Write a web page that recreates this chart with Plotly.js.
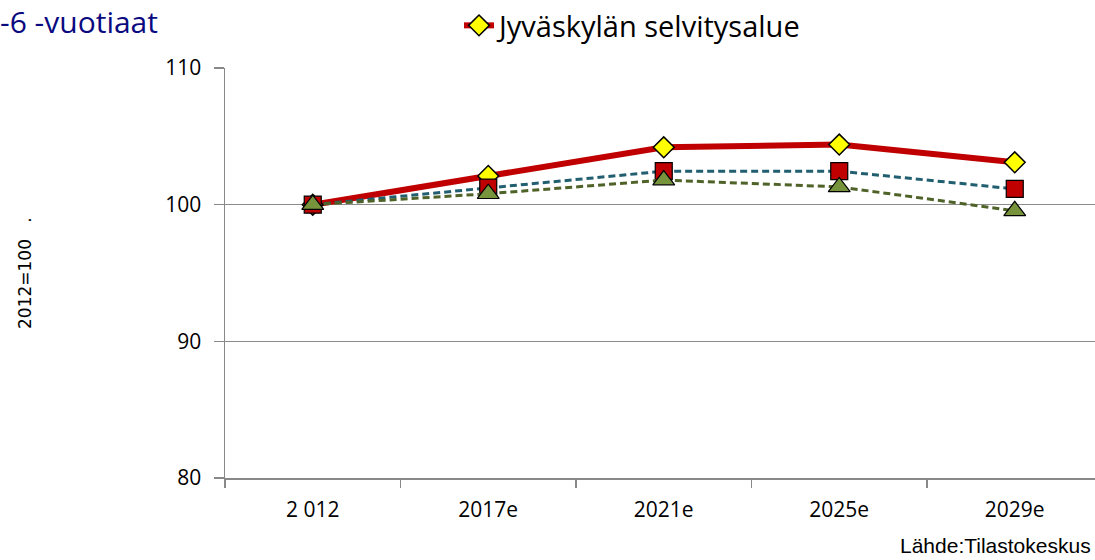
<!DOCTYPE html>
<html>
<head>
<meta charset="utf-8">
<script src="https://cdn.plot.ly/plotly-3.0.1.min.js"></script>
<style>html,body{margin:0;padding:0;background:#fff;}#chart{width:1095px;height:560px;}</style>
</head>
<body>
<div id="chart"></div>
<script>
const categories = ["2 012", "2017e", "2021e", "2025e", "2029e"];
const seriesNames = ["Jyväskylän selvitysalue", "Sarja 2", "Sarja 3"];
const jyvaskyla = [100, 102.1, 104.2, 104.4, 103.1];
const series2 = [100, 101.25, 102.45, 102.45, 101.15];
const series3 = [100, 100.8, 101.8, 101.3, 99.55];
const yTicks = [80, 90, 100, 110];
const titleText = "-6 -vuotiaat";
const yTitle = "2012=100&nbsp;&nbsp;&nbsp;.";
const sourceText = "Lähde:Tilastokeskus";

const L = 225, R = 0, T = 66, B = 82, W = 1095, H = 560;
const pw = W - L - R, ph = H - T - B;
const px = v => (v - L) / pw;
const py = v => (H - B - v) / ph;

const FONT = "'Open Sans', 'Noto Sans', sans-serif";

const traces = [
  {
    x: categories, y: jyvaskyla, name: seriesNames[0], type: "scatter", mode: "lines+markers",
    line: {color: "#C00000", width: 6},
    marker: {symbol: "diamond", size: 16, color: "#FFFF00", line: {color: "#000000", width: 1.5}},
    showlegend: true
  },
  {
    x: categories, y: series2, name: seriesNames[1], type: "scatter", mode: "lines+markers",
    line: {color: "#215F70", width: 3, dash: "7px,4px"},
    marker: {symbol: "square", size: 17, color: "#C00000", line: {color: "#000000", width: 1.2}},
    showlegend: false
  },
  {
    x: categories, y: series3, name: seriesNames[2], type: "scatter", mode: "lines+markers",
    line: {color: "#4F6228", width: 3, dash: "7px,4px"},
    marker: {symbol: "triangle-up", size: 19, color: "#77933C", line: {color: "#000000", width: 1.2}},
    showlegend: false
  }
];

const layout = {
  width: W, height: H,
  margin: {l: L, r: R, t: T, b: B, pad: 0},
  paper_bgcolor: "#ffffff", plot_bgcolor: "#ffffff",
  showlegend: true,
  legend: {
    x: px(459), y: py(23), xanchor: "left", yanchor: "middle",
    orientation: "h", bgcolor: "rgba(0,0,0,0)",
    font: {family: FONT, size: 29, color: "#000000"}
  },
  xaxis: {
    type: "category",
    range: [-0.5, -0.5 + pw / 175.5],
    tickson: "boundaries",
    ticks: "outside", ticklen: 8, tickcolor: "#888888", tickwidth: 1.5,
    showgrid: false, zeroline: false,
    showline: true, linecolor: "#888888", linewidth: 1.5,
    tickfont: {family: FONT, size: 21, color: "#000000"},
    ticklabelstandoff: 12,
    fixedrange: true
  },
  yaxis: {
    range: [80, 110],
    tickvals: yTicks, ticktext: yTicks.map(String),
    ticks: "outside", ticklen: 10, tickcolor: "#888888", tickwidth: 1.5,
    showgrid: true, gridcolor: "#8c8c8c", gridwidth: 1.5,
    zeroline: false,
    showline: true, linecolor: "#888888", linewidth: 1.5,
    tickfont: {family: FONT, size: 21, color: "#000000"},
    ticklabelstandoff: 8,
    fixedrange: true
  },
  annotations: [
    {
      text: titleText, xref: "paper", yref: "paper", x: px(-2), y: py(19),
      xanchor: "left", yanchor: "middle", showarrow: false,
      font: {family: FONT, size: 30, color: "#0A0A80"}
    },
    {
      text: yTitle, xref: "paper", yref: "paper", x: px(25), y: py(272),
      xanchor: "center", yanchor: "middle", showarrow: false, textangle: -90,
      font: {family: "'DejaVu Sans', sans-serif", size: 17, color: "#000000"}
    },
    {
      text: sourceText, xref: "paper", yref: "paper", x: px(1093), y: py(546),
      xanchor: "right", yanchor: "middle", showarrow: false,
      font: {family: "'Liberation Sans', Arial, sans-serif", size: 21, color: "#000000"}
    }
  ]
};

Plotly.newPlot("chart", traces, layout, {staticPlot: true, displayModeBar: false});
</script>
</body>
</html>
